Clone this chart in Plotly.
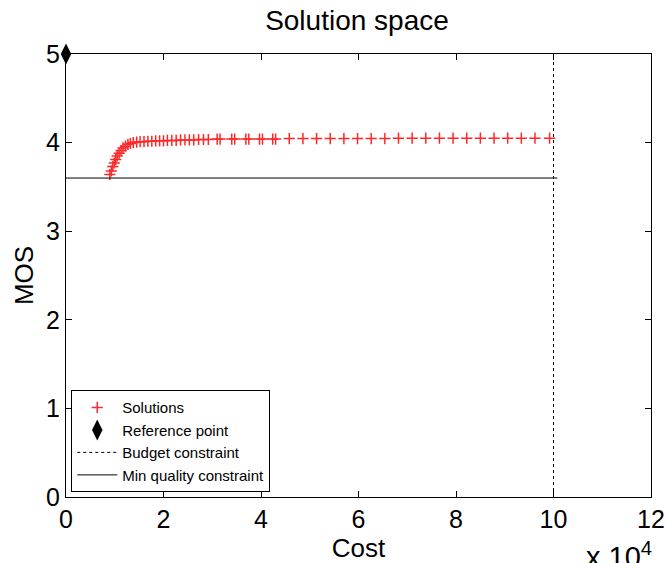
import plotly.graph_objects as go

# Solutions (cost, MOS)
sol_cost = [9000, 9300, 9600, 9900, 10200, 10500, 10900, 11300, 11700, 12200, 12700, 13200, 13800,
            14500, 15200, 16000, 16800, 17600, 18400, 19200, 20000, 20800, 21700, 22600, 23500,
            24400, 25300, 26200, 27200, 28200, 29200,
            31000, 31600, 34000, 34600, 36900, 37500, 39700, 40300, 42400, 43000,
            45800, 48600, 51400, 54200, 57000, 59800, 62600, 65400, 68200, 71000, 73800,
            76600, 79400, 82200, 85000, 87800, 90600, 93400, 96200, 99200]
sol_mos = [3.64, 3.68, 3.73, 3.77, 3.81, 3.85, 3.88, 3.91, 3.94, 3.96, 3.98, 3.99, 4.00,
           4.005, 4.01, 4.01, 4.015, 4.015, 4.02, 4.02, 4.02, 4.025, 4.025, 4.025, 4.03,
           4.03, 4.03, 4.03, 4.035, 4.035, 4.035,
           4.04, 4.04, 4.04, 4.04, 4.04, 4.04, 4.04, 4.04, 4.04, 4.04,
           4.045, 4.045, 4.045, 4.045, 4.045, 4.045, 4.045, 4.045, 4.05, 4.05, 4.05,
           4.05, 4.05, 4.05, 4.05, 4.05, 4.05, 4.05, 4.05, 4.05]

ref_cost = [0]
ref_mos = [5]

budget_x = [100000, 100000]
budget_y = [0, 5]

minq_x = [0, 100800]
minq_y = [3.6, 3.6]

x_tickvals = [0, 20000, 40000, 60000, 80000, 100000, 120000]
x_ticktext = ["0", "2", "4", "6", "8", "10", "12"]
y_tickvals = [0, 1, 2, 3, 4, 5]

font_family = "Liberation Sans, Arial, Helvetica, sans-serif"

fig = go.Figure()
fig.add_trace(go.Scatter(x=sol_cost, y=sol_mos, mode="markers", name="Solutions",
                         marker=dict(symbol="cross-thin", size=8,
                                     line=dict(color="rgb(255,40,40)", width=1.5),
                                     color="rgb(255,40,40)")))
fig.add_trace(go.Scatter(x=ref_cost, y=ref_mos, mode="markers", name="Reference point",
                         cliponaxis=False,
                         marker=dict(symbol="diamond-tall", size=15, color="black")))
fig.add_trace(go.Scatter(x=budget_x, y=budget_y, mode="lines", name="Budget constraint",
                         line=dict(color="black", width=1, dash="dot")))
fig.add_trace(go.Scatter(x=minq_x, y=minq_y, mode="lines", name="Min quality constraint",
                         line=dict(color="black", width=1)))

axis_common = dict(showgrid=False, zeroline=False, showline=True, linecolor="black",
                   linewidth=1, mirror="ticks", ticks="inside", ticklen=6,
                   tickcolor="black", tickfont=dict(size=25, color="black"),
                   automargin=False)

fig.update_xaxes(range=[0, 120000], tickvals=x_tickvals, ticktext=x_ticktext,
                 title=dict(text="Cost", font=dict(size=26, color="black"), standoff=0),
                 **axis_common)
fig.update_yaxes(range=[0, 5], tickvals=y_tickvals,
                 title=dict(text="MOS", font=dict(size=26, color="black"), standoff=4),
                 **axis_common)

fig.update_layout(
    width=666, height=563,
    margin=dict(l=66, r=15, t=54, b=66, autoexpand=False),
    paper_bgcolor="white", plot_bgcolor="white",
    font=dict(family=font_family, color="black"),
    title=dict(text="Solution space", x=0.536, xanchor="center", y=0.965, yanchor="middle",
               font=dict(size=28, color="black")),
    showlegend=True,
    legend=dict(x=0.009, y=0.011, xanchor="left", yanchor="bottom",
                bgcolor="white", bordercolor="black", borderwidth=1,
                font=dict(size=15, color="black"), tracegroupgap=0, itemwidth=40),
    annotations=[dict(text="x 10<sup>4</sup>", xref="paper", yref="paper",
                      x=0.885, y=-0.086, xanchor="left", yanchor="top", showarrow=False,
                      font=dict(size=29, color="black"))],
)

fig.write_html("out.html", config={"displayModeBar": False},
               post_script="document.body.style.margin='0';document.body.style.overflow='hidden';")
